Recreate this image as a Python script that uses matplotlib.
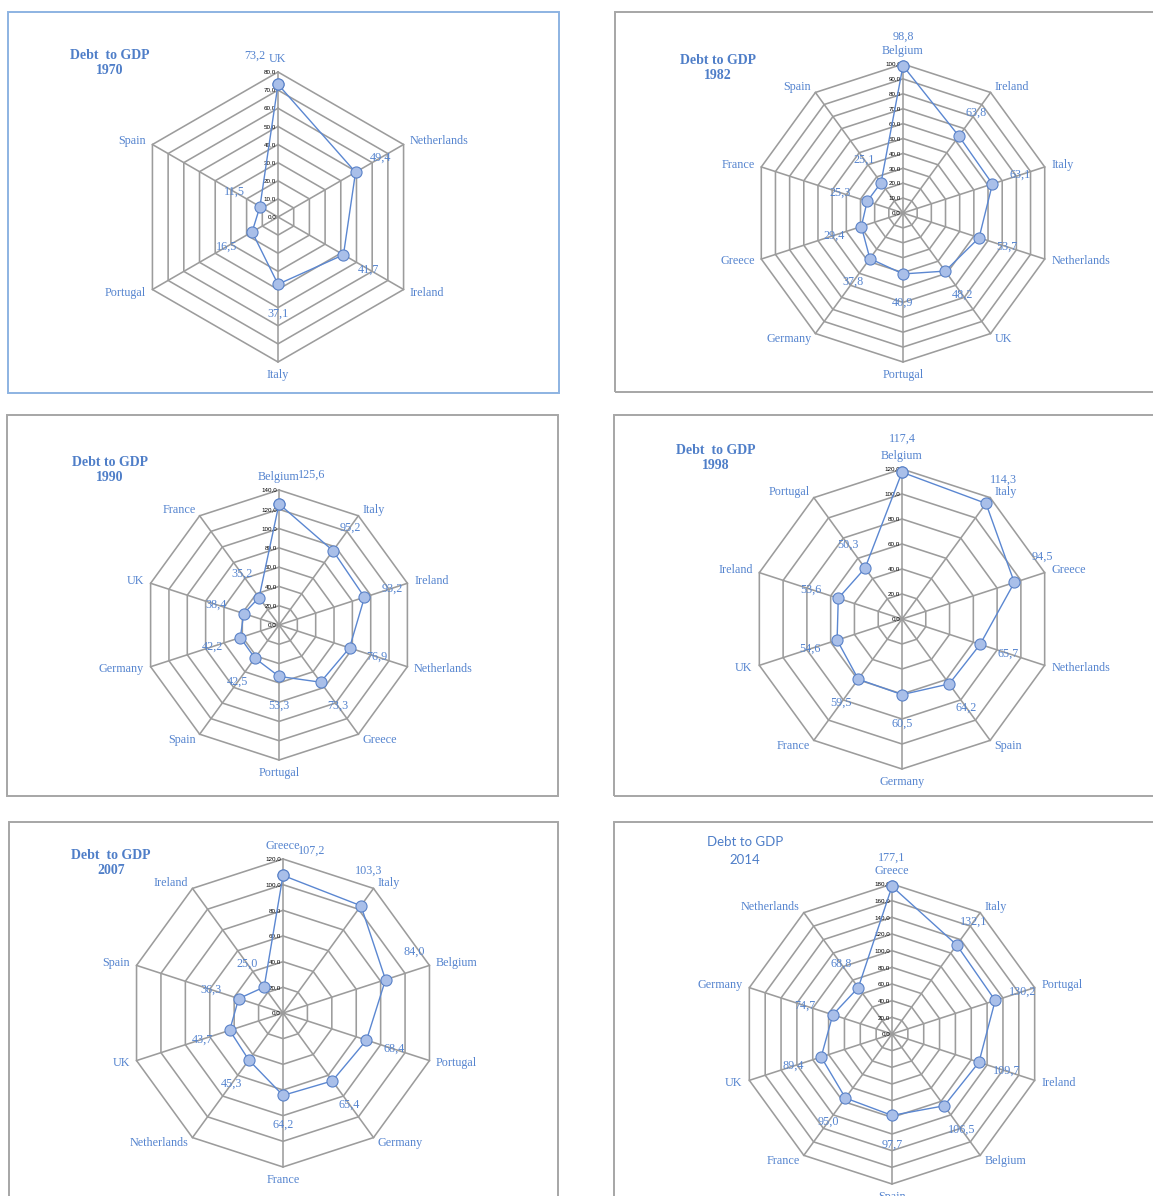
import numpy as np
import matplotlib.pyplot as plt
from matplotlib.patches import Rectangle

W, H = 1153, 1196
DPI = 100
PT = 72 / DPI          # one pixel in points

# debt to GDP (% of GDP), countries clockwise from the top spoke
countries_1970 = ["UK", "Netherlands", "Ireland", "Italy", "Portugal", "Spain"]
debt_1970 = [73.2, 49.4, 41.7, 37.1, 16.5, 11.5]

countries_1982 = ["Belgium", "Ireland", "Italy", "Netherlands", "UK",
                  "Portugal", "Germany", "Greece", "France", "Spain"]
debt_1982 = [98.8, 63.8, 63.1, 53.7, 48.2, 40.9, 37.8, 29.4, 25.3, 25.1]

countries_1990 = ["Belgium", "Italy", "Ireland", "Netherlands", "Greece",
                  "Portugal", "Spain", "Germany", "UK", "France"]
debt_1990 = [125.6, 95.2, 93.2, 76.9, 73.3, 53.3, 42.5, 42.2, 38.4, 35.2]

countries_1998 = ["Belgium", "Italy", "Greece", "Netherlands", "Spain",
                  "Germany", "France", "UK", "Ireland", "Portugal"]
debt_1998 = [117.4, 114.3, 94.5, 65.7, 64.2, 60.5, 59.5, 54.6, 53.6, 50.3]

countries_2007 = ["Greece", "Italy", "Belgium", "Portugal", "Germany",
                  "France", "Netherlands", "UK", "Spain", "Ireland"]
debt_2007 = [107.2, 103.3, 84.0, 68.4, 65.4, 64.2, 45.3, 43.7, 36.3, 25.0]

countries_2014 = ["Greece", "Italy", "Portugal", "Ireland", "Belgium",
                  "Spain", "France", "UK", "Germany", "Netherlands"]
debt_2014 = [177.1, 132.1, 130.2, 109.7, 106.5, 97.7, 95.0, 89.4, 74.7, 68.8]

years = ["1970", "1982", "1990", "1998", "2007", "2014"]
all_countries = [countries_1970, countries_1982, countries_1990,
                 countries_1998, countries_2007, countries_2014]
all_debt = [debt_1970, debt_1982, debt_1990, debt_1998, debt_2007, debt_2014]
scale_max = [80, 100, 140, 120, 120, 180]
scale_step = [10, 10, 20, 20, 20, 20]

# layout in pixels (x from left, y from top)
centers = [(278, 217), (903, 213), (279, 625), (902, 619), (283, 1013), (892, 1034)]
radii = [145, 149, 135, 150, 154, 150]
title_pos = [(110, 63), (718, 68), (110, 470), (716, 458), (111, 863), (745, 851)]
title_text = ["Debt  to GDP", "Debt to GDP", "Debt to GDP",
              "Debt  to GDP", "Debt  to GDP", "Debt to GDP"]
boxes = [(8, 12, 559, 393), (615, 12, 1165, 392), (7, 415, 558, 796),
         (614, 415, 1165, 796), (9, 822, 558, 1215), (614, 822, 1165, 1215)]

# data labels moved by hand (pixels, dy up)
label_shift = {
    ("1970", "UK"): (-23, 0),
    ("1990", "Belgium"): (33, 0),
    ("1998", "Belgium"): (0, 5),
    ("1998", "Greece"): (0, 17),
    ("2007", "Greece"): (29, -4),
    ("2007", "Italy"): (-9, 12),
    ("2007", "Belgium"): (1, 19),
}

grid_color = "#9c9c9c"
line_color = "#5b87d1"
marker_fill = "#a9bfe9"
marker_edge = "#5a82c8"
text_color = "#5584cf"
title_color = "#4f7ec8"
serif = "Liberation Serif"


def fmt(v):
    return f"{v:.1f}".replace(".", ",")


def radar(ax, year, names, values, rmax, step):
    n = len(names)
    ang = np.linspace(0, 2 * np.pi, n, endpoint=False)
    closed = np.append(ang, ang[0])

    ax.set_theta_zero_location("N")
    ax.set_theta_direction(-1)
    ax.set_ylim(0, rmax)
    ax.set_axis_off()

    # polygon grid and spokes
    for r in np.arange(step, rmax + step / 2, step):
        ax.plot(closed, np.full(n + 1, r), color=grid_color, lw=1.15,
                zorder=1, clip_on=False)
    for a in ang:
        ax.plot([a, a], [0, rmax], color=grid_color, lw=1.15, zorder=1, clip_on=False)

    # scale labels up the top spoke
    for r in np.arange(0, rmax + step / 2, step):
        ax.annotate(fmt(r), xy=(0, r), xytext=(-2 * PT, 0), textcoords="offset points",
                    ha="right", va="center", fontsize=4.5, color="black",
                    family="Liberation Sans", zorder=3)

    vals = np.append(values, values[0])
    ax.plot(closed, vals, color=line_color, lw=1.0, marker="o", markersize=8,
            markerfacecolor=marker_fill, markeredgecolor=marker_edge,
            markeredgewidth=0.8, zorder=4, clip_on=False)

    for a, name, v in zip(ang, names, values):
        s, c = np.sin(a), np.cos(a)
        if s > 0.1:
            ha = "left"
        elif s < -0.1:
            ha = "right"
        else:
            ha = "center"
        if abs(s) < 0.1:
            va = "bottom" if c > 0 else "top"
        else:
            va = "center"
        ax.annotate(name, xy=(a, rmax), xytext=(7 * s * PT, 7 * c * PT),
                    textcoords="offset points", ha=ha, va=va, fontsize=8.7,
                    color=text_color, family=serif, annotation_clip=False)

        dx, dy = label_shift.get((year, name), (0, 0))
        ax.annotate(fmt(v), xy=(a, v),
                    xytext=((29 * s + dx) * PT, (29 * c + dy) * PT),
                    textcoords="offset points", ha="center", va="center",
                    fontsize=8.7, color=text_color, family=serif,
                    annotation_clip=False, zorder=5)


fig = plt.figure(figsize=(W / DPI, H / DPI), dpi=DPI)

for i, year in enumerate(years):
    x0, y0, x1, y1 = boxes[i]
    edge = "#8db3e2" if i == 0 else "#a6a6a6"
    fig.patches.append(Rectangle((x0 / W, 1 - y1 / H), (x1 - x0) / W, (y1 - y0) / H,
                                 transform=fig.transFigure, fill=False,
                                 edgecolor=edge, lw=1.4))

    cx, cy = centers[i]
    R = radii[i]
    ax = fig.add_axes([(cx - R) / W, 1 - (cy + R) / H, 2 * R / W, 2 * R / H],
                      projection="polar")
    radar(ax, year, all_countries[i], all_debt[i], scale_max[i], scale_step[i])

    tx, ty = title_pos[i]
    if year == "2014":
        fig.text(tx / W, 1 - ty / H, title_text[i] + "\n" + year, ha="center",
                 va="center", fontsize=9.5, color=title_color, family="Lato",
                 linespacing=1.5)
    else:
        fig.text(tx / W, 1 - ty / H, title_text[i] + "\n" + year, ha="center",
                 va="center", fontsize=10, color=title_color, family=serif,
                 fontweight="bold", linespacing=1.2)

fig.savefig("out.png", dpi=DPI)
